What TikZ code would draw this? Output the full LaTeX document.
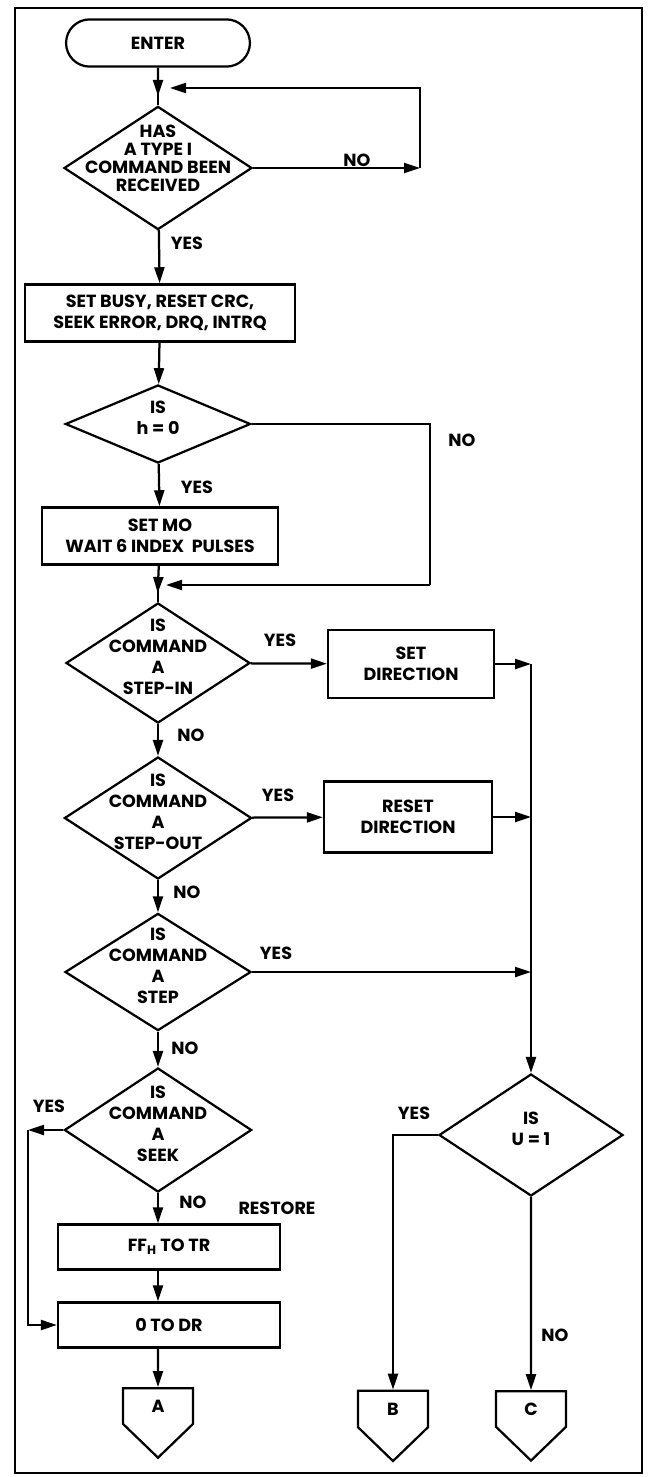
\documentclass[tikz,border=0pt]{standalone}
\usepackage{fontspec}
\setmainfont{Poppins}
\usetikzlibrary{arrows.meta,shapes.geometric,shapes.symbols,shapes.misc}
\newcommand{\dlines}[1]{\smash{\begin{tabular}{@{}c@{}}#1\end{tabular}}}
\begin{document}
\begin{tikzpicture}[x=0.025cm,y=-0.025cm,line width=1.6pt,
  font=\fontsize{12.5}{15}\selectfont\bfseries,
  terminal/.style={draw,rounded rectangle,minimum width=4.83cm,minimum height=1.18cm},
  process/.style={draw,align=center,inner sep=0pt},
  decision/.style={draw,diamond,aspect=1.5,inner sep=0pt,
    minimum width=4.65cm,minimum height=3.05cm},
  offpage/.style={draw,signal,signal to=south,signal pointer angle=92,
    minimum width=1.75cm,minimum height=1.05cm,inner sep=0pt},
  lbl/.style={inner sep=1pt},
  arrow/.style={-{Triangle[length=0.4cm,width=0.25cm]}}]
\useasboundingbox (0,0) rectangle (649,1477);
\draw (15,8) rectangle (642,1473);
\node[terminal] (enter) at (158,43) {ENTER};
\node[decision,minimum width=4.7cm,minimum height=3.08cm] (typei) at (158,168)
  {\fontsize{12.5}{12.8}\selectfont\raisebox{0.15cm}{\dlines{HAS\\A TYPE I\\COMMAND BEEN\\RECEIVED}}};
\node[process,minimum width=6.75cm,minimum height=1.43cm] (busy) at (160,313)
  {SET BUSY, RESET CRC,\\SEEK ERROR, DRQ, INTRQ};
\node[decision,aspect=2.4,minimum width=4.63cm,minimum height=1.95cm] (hzero) at (158,424)
  {\dlines{IS\\h = 0}};
\node[process,minimum width=5.88cm,minimum height=1.43cm] (motor) at (160,536)
  {SET MO\\WAIT 6 INDEX\ \ PULSES};
\node[decision,minimum width=4.6cm,minimum height=3.0cm] (stepin) at (158,663)
  {\dlines{IS\\COMMAND\\A\\STEP-IN}};
\node[process,minimum width=4.15cm,minimum height=1.7cm] (setdir) at (411,664)
  {SET\\DIRECTION};
\node[decision,minimum width=4.68cm] (stepout) at (158,818)
  {\dlines{IS\\COMMAND\\A\\STEP-OUT}};
\node[process,minimum width=4.2cm,minimum height=1.78cm] (resetdir) at (408,817)
  {RESET\\DIRECTION};
\node[decision,minimum height=2.93cm] (step) at (158,972)
  {\dlines{IS\\COMMAND\\A\\STEP}};
\node[decision,minimum width=4.68cm,minimum height=3.1cm] (seek) at (158,1130)
  {\dlines{IS\\COMMAND\\A\\SEEK}};
\node[process,minimum width=5.55cm,minimum height=1.13cm] (fftotr) at (169,1247)
  {FF\textsubscript{H} TO TR};
\node[process,minimum width=5.55cm,minimum height=1.13cm] (zerotodr) at (169,1325)
  {0 TO DR};
\node[decision,minimum width=4.6cm] (update) at (531,1135)
  {\dlines{IS\\U = 1}};
\node[offpage] (outa) at (158,1406) {A};
\node[offpage] (outb) at (393,1409) {B};
\node[offpage] (outc) at (531,1409) {C};
\node[lbl] (no1) at (357,160) {NO};
\node[lbl] (yes1) at (187,243) {YES};
\node[lbl] (no2) at (462,440) {NO};
\node[lbl] (yes2) at (197,487) {YES};
\node[lbl] (yes3) at (280,640) {YES};
\node[lbl] (no3) at (191,735) {NO};
\node[lbl] (yes4) at (278,795) {YES};
\node[lbl] (no4) at (187,892) {NO};
\node[lbl] (yes5) at (276,953) {YES};
\node[lbl] (no5) at (185,1048) {NO};
\node[lbl] (yes6) at (49,1106) {YES};
\node[lbl] (no6) at (193,1202) {NO};
\node[lbl] (restore) at (277,1208) {RESTORE};
\node[lbl] (yes7) at (414,1113) {YES};
\node[lbl] (no7) at (555,1335) {NO};
\coordinate (join1) at (158,88);
\coordinate (loop1) at (420,168);
\coordinate (join2) at (158,585);
\coordinate (loop2) at (430,585);
\coordinate (jr1) at (531,664);
\coordinate (jr2) at (531,817);
\coordinate (jr3) at (531,972);
\coordinate (seekl) at (28,1130);
\draw[arrow,shorten >=-0.2cm] (enter) -- (join1);
\draw (join1) -- (typei);
\draw[arrow] (typei.east) -- (loop1);
\draw[arrow,shorten >=0.3cm] (loop1) |- (join1);
\draw[arrow] (typei) -- (busy);
\draw[arrow] (busy) -- (hzero);
\draw[arrow] (hzero) -- (motor);
\draw (hzero.east) -| (loop2);
\draw[arrow,shorten >=0.2cm] (loop2) -- (join2);
\draw[arrow,shorten >=-0.2cm] (motor) -- (join2);
\draw (join2) -- (stepin);
\draw[arrow] (stepin) -- (setdir);
\draw[arrow] (stepin) -- (stepout);
\draw[arrow] (stepout) -- (resetdir);
\draw[arrow] (stepout) -- (step);
\draw[arrow] (step) -- (seek);
\draw[arrow] (setdir) -- (jr1);
\draw[arrow] (resetdir.east) -- (jr2);
\draw[arrow] (step.east) -- (jr3);
\draw (jr1) -- (jr3);
\draw[arrow] (jr3) -- (update);
\draw[arrow] (seek.west) -- (seekl);
\draw[arrow] (seekl) |- (zerotodr.west);
\draw[arrow] (seek.south) -- (seek.south |- fftotr.north);
\draw[arrow] (fftotr.south -| seek.south) -- (zerotodr.north -| seek.south);
\draw[arrow] (zerotodr.south -| seek.south) -- (outa);
\draw[arrow] (update.west) -| (outb);
\draw[arrow] (update) -- (outc);
\end{tikzpicture}
\end{document}
